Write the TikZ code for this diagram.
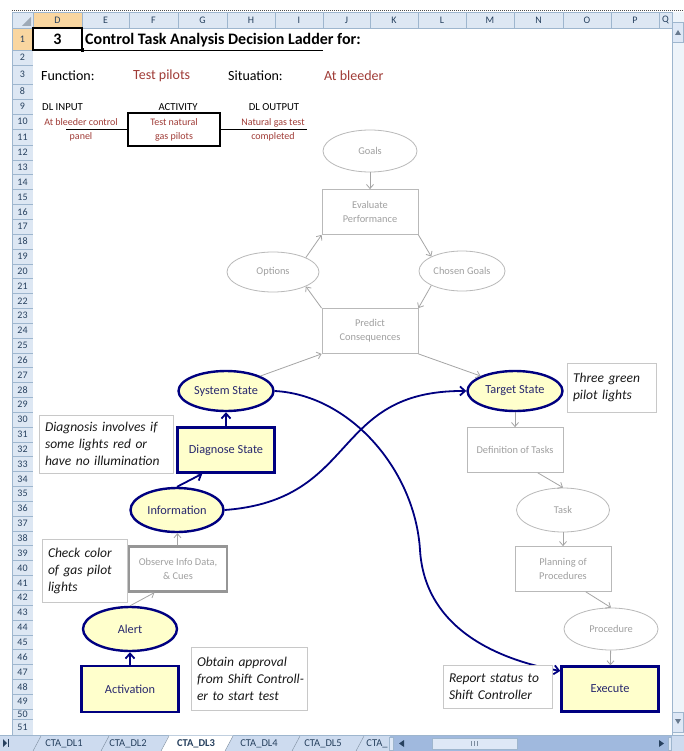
\documentclass[tikz,border=0pt]{standalone}
\usepackage{fontspec}
\setmainfont{Carlito}
\usepackage{tikz}
\usetikzlibrary{positioning,arrows.meta,shapes.geometric}

\definecolor{navyline}{RGB}{0,0,128}
\definecolor{navytext}{RGB}{40,40,110}
\definecolor{paleyellow}{RGB}{255,255,204}
\definecolor{greyline}{RGB}{185,185,185}
\definecolor{greytext}{RGB}{160,160,160}
\definecolor{greyarrow}{RGB}{165,165,165}
\definecolor{obsline}{RGB}{150,150,150}
\definecolor{darkred}{RGB}{160,60,55}
\definecolor{hdrfill}{RGB}{221,231,243}
\definecolor{hdrline}{RGB}{158,182,206}
\definecolor{hdrtext}{RGB}{39,65,95}
\definecolor{hdrsel}{RGB}{249,214,160}
\definecolor{notetext}{RGB}{25,25,25}
\definecolor{noteline}{RGB}{200,200,200}
\definecolor{tabfill}{RGB}{205,219,239}
\definecolor{scrollfill}{RGB}{160,185,222}
\definecolor{thumbfill}{RGB}{222,232,246}

\newcommand{\fs}[2]{\fontsize{#1}{#2}\selectfont}

\begin{document}
\begin{tikzpicture}[x=1pt,y=-1pt]
  \tikzstyle{hdrlabel}=[text=hdrtext,font=\fs{10}{12},inner sep=0pt]
  \tikzstyle{greybox}=[draw=greyline,line width=0.8pt,text=greytext,align=center,minimum width=96pt,minimum height=45pt,font=\fs{10.4}{14}]
  \tikzstyle{greyoval}=[ellipse,draw=greyline,line width=0.8pt,text=greytext,inner sep=0pt,minimum width=94pt,minimum height=42pt,font=\fs{10.4}{14}]
  \tikzstyle{navybox}=[draw=navyline,fill=paleyellow,line width=2.4pt,text=navytext,align=center,minimum width=97pt,minimum height=45pt,font=\fs{12.3}{14}]
  \tikzstyle{navyoval}=[ellipse,draw=navyline,fill=paleyellow,line width=2.4pt,text=navytext,inner sep=0pt,minimum width=95pt,minimum height=40pt,font=\fs{12.3}{14}]
  \tikzstyle{note}=[draw=noteline,line width=0.8pt,fill=white,text=notetext,align=left,inner xsep=6pt,font=\itshape\fs{13.5}{17}]
  \tikzstyle{greyflow}=[draw=greyarrow,line width=0.8pt,-{Straight Barb[length=4pt,width=7pt]}]
  \tikzstyle{navyflow}=[draw=navyline,line width=1.8pt,-{Straight Barb[length=5pt,width=9pt]}]
  \tikzstyle{tablabel}=[text=hdrtext,font=\fs{10.5}{12},inner sep=0pt]

  \useasboundingbox (0,0) rectangle (684,751);
  \fill[white] (0,0) rectangle (684,751);
  \draw[black!70,dash pattern=on 1pt off 1pt] (12,10) -- (684,10);

  % headers
  \fill[hdrfill] (12,12) rectangle (672,28);
  \fill[hdrfill] (12,28) rectangle (33,735);
  \fill[hdrsel] (33,12) rectangle (82,28);
  \fill[hdrsel] (12,28) rectangle (33,50);
  \fill[hdrtext!45] (31,26) -- (31,17) -- (22,26) -- cycle;
  \foreach \x in {33,82,129,178,227,275,323,370,418,466,514,563,611,659}
    \draw[hdrline] (\x,12) -- (\x,28);
  \foreach \c/\x in {D/57.5,E/105.5,F/153.5,G/202.5,H/251,I/299,J/346.5,K/394,L/442,M/490,N/538.5,O/587,P/635,Q/665.5}
    \node[hdrlabel] (col\c) at (\x,20) {\c};
  \foreach \r/\ya/\yb in {1/28/50,2/50/65,3/65/84,8/84/99,9/99/114,10/114/129,11/129/145,50/709/719,51/719/735} {
    \draw[hdrline] (12,\yb) -- (33,\yb);
    \node[hdrlabel] (row\r) at (22.5,{(\ya+\yb)/2}) {\r};
  }
  \foreach \r in {12,...,49} {
    \pgfmathsetmacro{\ybot}{145+(\r-11)*14.84}
    \pgfmathsetmacro{\ymid}{145+(\r-11.5)*14.84}
    \draw[hdrline] (12,\ybot) -- (33,\ybot);
    \node[hdrlabel] (row\r) at (22.5,\ymid) {\r};
  }
  \draw[hdrline] (12,12) -- (12,735);
  \draw[hdrline] (12,12) -- (672,12);
  \draw[hdrline] (12,28) -- (672,28);

  % scroll bars and sheet tabs
  \fill[thumbfill!50!white] (672,12) rectangle (684,735);
  \draw[hdrline] (672,12) -- (672,735);
  \draw[hdrline,fill=thumbfill] (672.5,22) rectangle (683.5,42);
  \fill[hdrtext!70] (675,35) -- (681,35) -- (678,30) -- cycle;
  \draw[hdrline,fill=thumbfill] (672.5,712) rectangle (683.5,732);
  \fill[hdrtext!70] (675,719) -- (681,719) -- (678,724) -- cycle;
  \fill[tabfill] (0,735) rectangle (684,751);
  \draw[hdrline] (0,735) -- (684,735);
  \fill[hdrtext] (3,739) -- (3,747) -- (7,743) -- cycle;
  \draw[hdrtext,line width=1pt] (8.5,739) -- (8.5,747);
  \fill[white] (161,751) -- (169,735.5) -- (233,735.5) -- (225,751) -- cycle;
  \foreach \x in {33,101,161,225,292,356}
    \draw[hdrtext!60] (\x,751) -- (\x+8,736);
  \node[tablabel] (tab1) at (64,743.5) {CTA\_DL1};
  \node[tablabel] (tab2) at (128,743.5) {CTA\_DL2};
  \node[tablabel,font=\bfseries\fs{10.5}{12}] (tab3) at (196,743.5) {CTA\_DL3};
  \node[tablabel] (tab4) at (259,743.5) {CTA\_DL4};
  \node[tablabel] (tab5) at (323,743.5) {CTA\_DL5};
  \node[tablabel] (tab6) at (377,743.5) {CTA\_};
  \fill[scrollfill] (390,736) rectangle (672,751);
  \draw[hdrline,fill=thumbfill] (389,737) rectangle (393,750);
  \fill[hdrtext] (404,740) -- (404,747) -- (399,743.5) -- cycle;
  \draw[hdrline,fill=thumbfill] (432,738) rectangle (517,749);
  \foreach \x in {471,474,477}
    \draw[hdrtext!60] (\x,741) -- (\x,746);
  \fill[hdrtext] (659,740) -- (659,747) -- (664,743.5) -- cycle;
  \draw[hdrline,fill=thumbfill] (668,737) rectangle (671,750);

  % title rows
  \node[draw,line width=1.6pt,minimum width=49pt,minimum height=22pt,font=\bfseries\fs{16}{18}] (cellnum) at (57.5,39) {3};
  \fill (80.5,48.5) rectangle (84,52);
  \node[anchor=west,inner sep=0pt,font=\bfseries\fs{16}{18}] (title) at (85,40) {Control Task Analysis Decision Ladder for:};
  \draw[line width=0.8pt] (84,50) -- (323,50);
  \node[anchor=west,inner sep=0pt,font=\fs{14}{16}] (funclabel) at (41,75.5) {Function:};
  \node[anchor=west,inner sep=0pt,font=\fs{14}{16},text=darkred] (funcvalue) at (133,75.5) {Test pilots};
  \node[anchor=west,inner sep=0pt,font=\fs{14}{16}] (sitlabel) at (228,75.5) {Situation:};
  \node[anchor=west,inner sep=0pt,font=\fs{14}{16},text=darkred] (sitvalue) at (324,75.5) {At bleeder};

  \node[anchor=west,inner sep=0pt,font=\fs{10.7}{12}] (dlinput) at (42,107) {DL INPUT};
  \node[inner sep=0pt,font=\fs{10.7}{12}] (activitylabel) at (178,107) {ACTIVITY};
  \node[inner sep=0pt,font=\fs{10.7}{12}] (dloutput) at (274,107) {DL OUTPUT};
  \node[align=center,inner sep=0pt,font=\fs{10}{14},text=darkred] (inputtext) at (81,130) {At bleeder control\\panel};
  \node[draw,line width=1.4pt,minimum width=92pt,minimum height=33pt,align=center,font=\fs{10}{14},text=darkred] (activitybox) at (174,129.5) {Test natural\\gas pilots};
  \node[align=center,inner sep=0pt,font=\fs{10}{14},text=darkred] (outputtext) at (273,130) {Natural gas test\\completed};
  \coordinate (inputend) at (66,129.5);
  \coordinate (outputend) at (307,129.5);
  \draw[line width=0.8pt] (inputend) -- (activitybox.west);
  \draw[line width=0.8pt] (activitybox.east) -- (outputend);

  % decision ladder
  \node[greyoval] (goals) at (370,151) {Goals};
  \node[greybox] (evalperf) at (370,212) {Evaluate\\Performance};
  \node[greyoval,minimum width=92pt,minimum height=40pt] (options) at (273,272) {Options};
  \node[greyoval,minimum width=86pt,minimum height=40pt] (chosen) at (462,271) {Chosen Goals};
  \node[greybox] (predict) at (370,331) {Predict\\Consequences};
  \node[navyoval] (systemstate) at (226,391) {System State};
  \node[navybox] (diagnose) at (226,450) {Diagnose State};
  \node[navyoval,minimum width=93pt,minimum height=44pt] (information) at (177,510) {Information};
  \node[greybox,draw=obsline,line width=2.2pt,minimum width=98pt] (observe) at (178,569) {Observe Info Data,\\\& Cues};
  \node[navyoval,minimum width=94pt,minimum height=44pt] (alert) at (130,629) {Alert};
  \node[navybox,minimum height=46pt] (activation) at (130,689) {Activation};
  \node[navyoval] (targetstate) at (515,391) {Target State};
  \node[greybox] (deftasks) at (515,450) {Definition of Tasks};
  \node[greyoval,minimum width=93pt,minimum height=44pt] (task) at (563,510) {Task};
  \node[greybox] (planning) at (563,569) {Planning of\\Procedures};
  \node[greyoval] (procedure) at (611,629) {Procedure};
  \node[navybox] (execute) at (610,689) {Execute};

  \draw[greyflow] (goals) -- (evalperf);
  \draw[greyflow] (evalperf.south east) -- (chosen.north west);
  \draw[greyflow] (chosen.south west) -- (predict.north east);
  \draw[greyflow] (predict.north west) -- (options.south east);
  \draw[greyflow] (options.north east) -- (evalperf.south west);
  \draw[greyflow] (systemstate.north east) -- (predict.south west);
  \draw[greyflow] (predict.south east) -- (targetstate.north west);
  \draw[greyflow] (targetstate) -- (deftasks);
  \draw[greyflow] (deftasks.-45) -- (task.north);
  \draw[greyflow] (task) -- (planning);
  \draw[greyflow] (planning.-45) -- (procedure.north);
  \draw[greyflow] (procedure) -- (execute);
  \draw[greyflow] (observe) -- (information);
  \draw[greyflow] (alert.north) -- (observe.-135);
  \draw[navyflow] (activation) -- (alert);
  \draw[navyflow] (information.north) -- (diagnose.-135);
  \draw[navyflow] (diagnose) -- (systemstate);
  \coordinate (dropbend) at (420,550);
  \draw[navyflow] (systemstate.east) .. controls (350,395) and (415,470) .. (dropbend) .. controls (425,630) and (500,660) .. (execute.160);
  \draw[navyflow] (information.east) .. controls (360,500) and (330,390) .. (targetstate.west);

  % notes
  \node[note,text width=77pt,minimum height=49pt] (notetarget) at (611.5,387.5) {Three green\\pilot lights};
  \node[note,text width=122pt,minimum height=58pt] (notediagnose) at (106,444) {Diagnosis involves if\\some lights red or\\have no illumination};
  \node[note,text width=73pt,minimum height=63pt] (notecheck) at (84.5,570.5) {Check color\\of gas pilot\\lights};
  \node[note,text width=104pt,minimum height=63pt] (noteapproval) at (249,678.5) {Obtain approval\\\mbox{from Shift Controll-}\\er to start test};
  \node[note,text width=97pt,minimum height=43pt] (notereport) at (497.5,686.5) {Report status to\\Shift Controller};
\end{tikzpicture}
\end{document}
